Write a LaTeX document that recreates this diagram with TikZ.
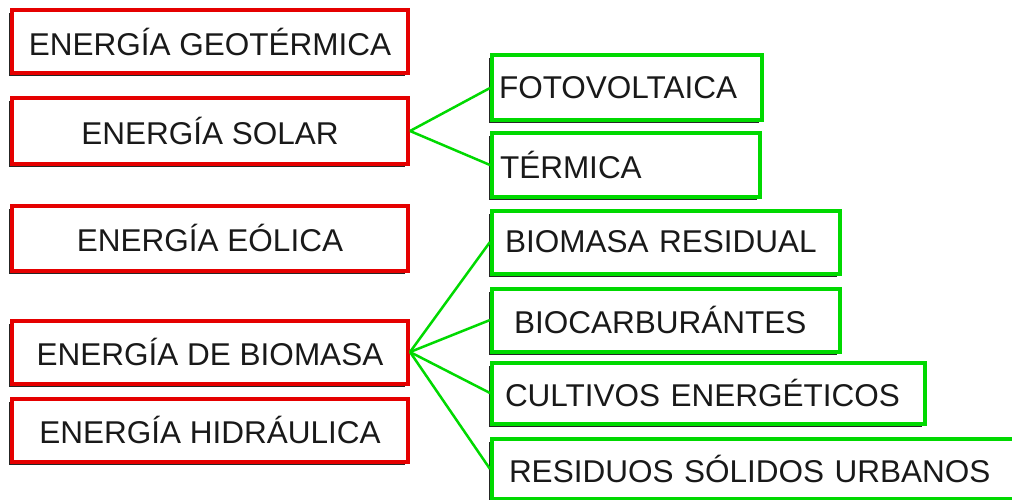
\documentclass[tikz,border=0pt]{standalone}
\usepackage{fontspec}
\setmainfont{Liberation Sans}
\usetikzlibrary{shadows}

\begin{document}
\begin{tikzpicture}[x=1pt,y=-1pt,
    caja/.style={draw, fill=white, line width=4pt, inner ysep=0pt,
      font=\fontsize{31.5}{34}\selectfont, text=black!90,
      drop shadow={shadow xshift=-3.5pt, shadow yshift=-3pt, opacity=0.85, fill=black}},
    fuente/.style={caja, draw=red!90!black, minimum width=396, inner xsep=0pt, anchor=center},
    tipo/.style={caja, draw=green!85!black, anchor=west, align=left},
    enlace/.style={green!85!black, line width=2.5pt}]
      \useasboundingbox (0,0) rectangle (1012,500);

      % Energy sources
      \node[fuente, minimum height=63] (geo) at (210,42) {ENERGÍA GEOTÉRMICA};
      \node[fuente, minimum height=66] (solar) at (210,131) {ENERGÍA SOLAR};
      \node[fuente, minimum height=65] (eolica) at (210,238) {ENERGÍA EÓLICA};
      \node[fuente, minimum height=63] (biomasa) at (210,352) {ENERGÍA DE BIOMASA};
      \node[fuente, minimum height=63] (hidraulica) at (210,430) {ENERGÍA HIDRÁULICA};

      % Solar branches
      \node[tipo, minimum height=65, inner xsep=7pt, text width=256pt] (foto) at (490,88) {FOTOVOLTAICA};
      \node[tipo, minimum height=64, inner xsep=8pt, text width=252pt] (termica) at (490,165) {TÉRMICA};

      % Biomass branches
      \node[tipo, minimum height=63, inner xsep=13pt, text width=322pt] (residual) at (490,242) {BIOMASA RESIDUAL};
      \node[tipo, minimum height=63, inner xsep=22pt, text width=304pt] (biocarb) at (490,320) {BIOCARBURÁNTES};
      \node[tipo, minimum height=61, inner xsep=13pt, text width=407pt] (cultivos) at (490,393) {CULTIVOS ENERGÉTICOS};
      \node[tipo, minimum height=60, inner xsep=17pt, text width=490pt] (residuos) at (490,469) {RESIDUOS SÓLIDOS URBANOS};

      % Connectors
      \draw[enlace] (solar.east) -- (foto.west);
      \draw[enlace] (solar.east) -- (termica.west);
      \draw[enlace] (biomasa.east) -- (residual.west);
      \draw[enlace] (biomasa.east) -- (biocarb.west);
      \draw[enlace] (biomasa.east) -- (cultivos.west);
      \draw[enlace] (biomasa.east) -- (residuos.west);
    \end{tikzpicture}
\end{document}
